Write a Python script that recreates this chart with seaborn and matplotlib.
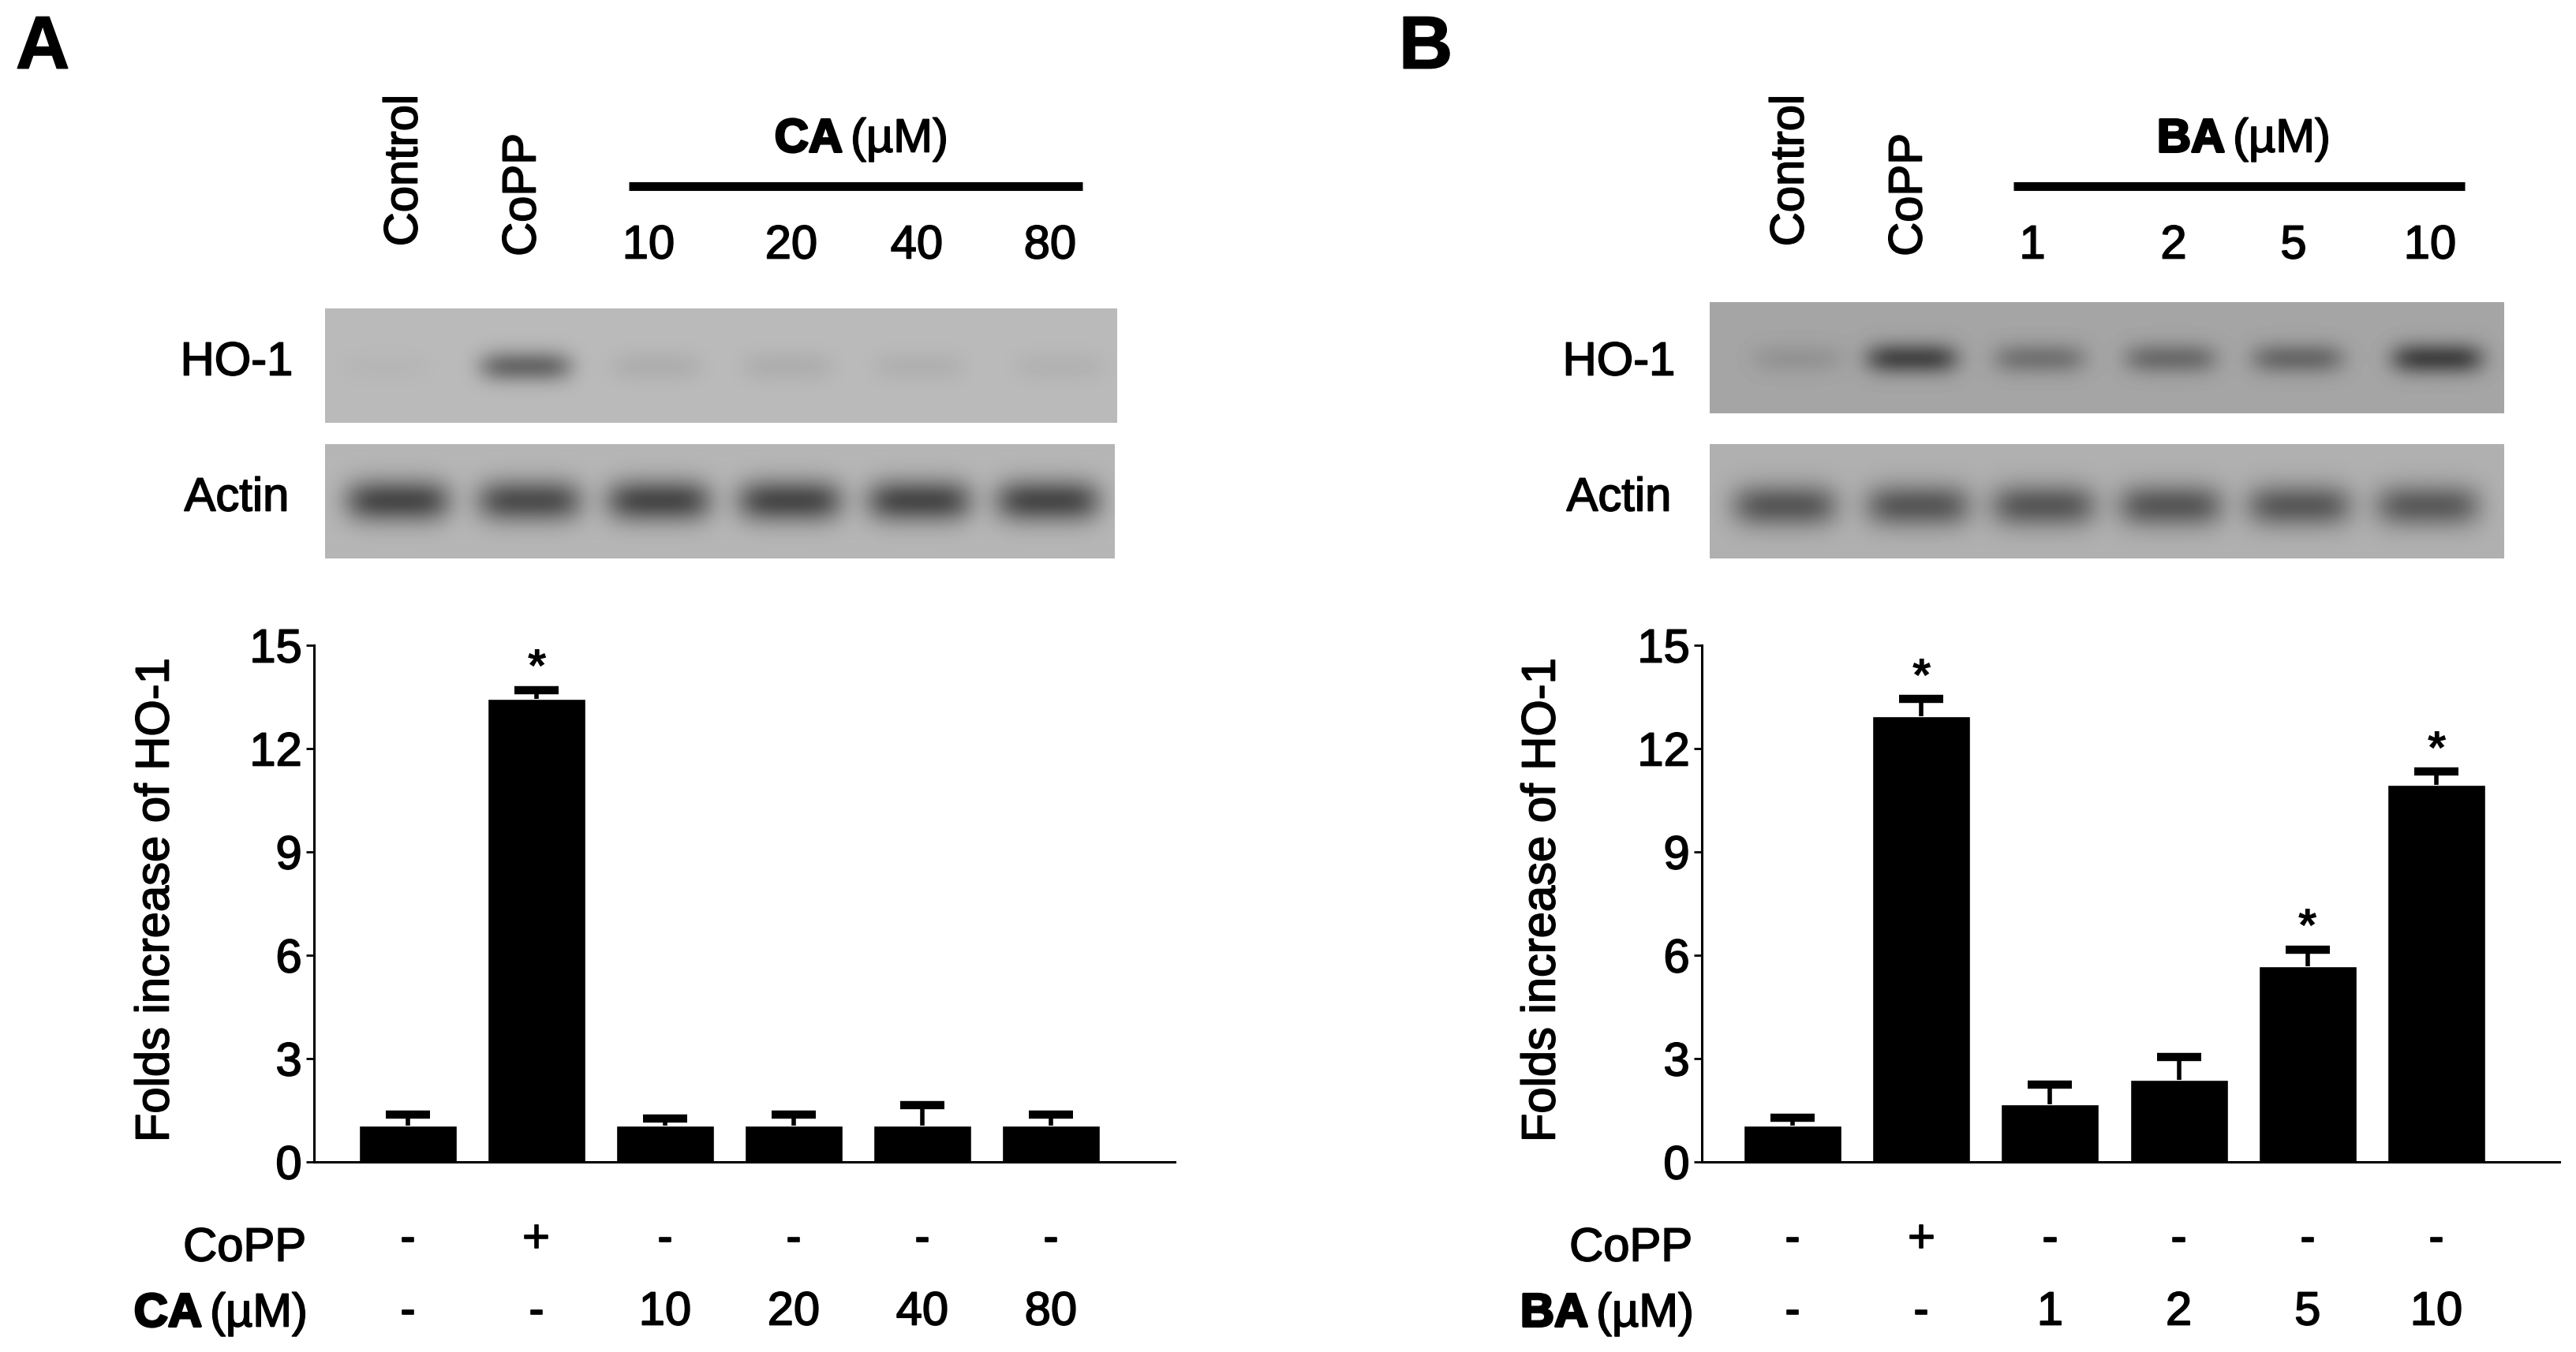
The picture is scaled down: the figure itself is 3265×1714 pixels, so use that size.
import matplotlib
matplotlib.use("Agg")
import matplotlib.pyplot as plt
import matplotlib.patheffects as pe
from matplotlib.transforms import blended_transform_factory
import numpy as np
import seaborn as sns

# values
lanes_a = ["Control", "CoPP", "10", "20", "40", "80"]
means_a = [1.05, 13.45, 1.05, 1.05, 1.05, 1.05]
err_a = [0.32, 0.25, 0.22, 0.32, 0.6, 0.32]
stars_a = [1]

lanes_b = ["Control", "CoPP", "1", "2", "5", "10"]
means_b = [1.05, 12.95, 1.68, 2.38, 5.69, 10.95]
err_b = [0.24, 0.49, 0.56, 0.67, 0.48, 0.38]
stars_b = [1, 4, 5]

copp_row = ["-", "+", "-", "-", "-", "-"]
yticks = [0, 3, 6, 9, 12, 15]

# how dark each band on the blots is (grey level 0-255)
ho1_dark_a = [182, 105, 174, 174, 176, 178]
actin_dark_a = [72, 78, 72, 72, 72, 72]
ho1_dark_b = [148, 70, 115, 108, 105, 66]
actin_dark_b = [88, 88, 88, 88, 90, 92]

W, H = 3266, 1714
FS = 43
# fattens the text a little, the source is a blurry raster
THICK = [pe.withStroke(linewidth=1.2, foreground="black")]
HEAVY = [pe.withStroke(linewidth=2.2, foreground="black")]

sns.set_style("ticks")
plt.rcParams["font.family"] = ["Liberation Sans", "DejaVu Sans"]

fig = plt.figure(figsize=(W / 100, H / 100), dpi=100)


def put(x, y, s, **kw):
    # text placed in image pixels
    kw.setdefault("fontsize", FS)
    kw.setdefault("ha", "center")
    kw.setdefault("va", "center")
    return fig.text(x / W, 1 - y / H, s, color="black", **kw)


def blot(box, bg, centers, dark, cy, half_w, half_h):
    x0, x1, y0, y1 = box
    ax = fig.add_axes([x0 / W, 1 - y1 / H, (x1 - x0) / W, (y1 - y0) / H])
    xx, yy = np.meshgrid(np.arange(x0, x1), np.arange(y0, y1))
    img = np.full(xx.shape, float(bg))
    for c, d in zip(centers, dark):
        shape = np.exp(-((xx - c) / half_w) ** 4 - ((yy - cy) / half_h) ** 2)
        img = img - (bg - d) * shape
    ax.imshow(img, cmap="gray", vmin=0, vmax=255, aspect="auto", interpolation="bilinear")
    ax.axis("off")


def panel(letter, letter_x, shift, head_shift, lanes, means, err, stars, drug, doses, ho1_bg, ho1_box, ho1_x, ho1_dark,
          ho1_y, actin_bg, actin_box, actin_x, actin_dark, actin_y, left, right, c0, step, dose_x, bar_x):
    put(letter_x, 62, letter, fontsize=68, fontweight="bold", ha="left", path_effects=THICK)

    # treatment header above the blots
    put(513 + shift, 216, "Control", rotation=90, path_effects=THICK)
    put(663 + shift, 247, "CoPP", rotation=90, path_effects=THICK)
    put(1068 + head_shift, 177, drug, fontweight="bold", ha="right", path_effects=HEAVY)
    put(1078 + head_shift, 177, "(µM)", ha="left", path_effects=THICK)
    fig.add_artist(plt.Line2D([bar_x[0] / W, bar_x[1] / W], [1 - 236 / H] * 2, color="black", lw=8, solid_capstyle="butt"))
    for x, d in zip(dose_x, doses):
        put(x, 312, d, path_effects=THICK)
    put(300 + head_shift, 460, "HO-1", path_effects=THICK)
    put(300 + head_shift, 632, "Actin", path_effects=THICK)

    blot(ho1_box, ho1_bg, ho1_x, ho1_dark, ho1_y, 58, 20)
    blot(actin_box, actin_bg, actin_x, actin_dark, actin_y, 66, 27)

    # bar chart
    ax = fig.add_axes([left / W, 1 - 1473 / H, (right - left) / W, (1473 - 818) / H])
    sns.barplot(x=lanes, y=means, color="black", saturation=1, width=0.76, ax=ax)
    bars = ax.errorbar(range(len(means)), means, yerr=[np.zeros(len(err)), err], fmt="none", ecolor="black",
                       elinewidth=4, capsize=20, capthick=7.5)
    bars[1][0].set_visible(False)  # only the upper cap, the lower one sits on the bar top
    ax.set_xlim((left - c0) / step, (right - c0) / step)
    ax.set_ylim(0, 15)
    ax.set_yticks(yticks)
    ax.set_xticks([])
    ax.tick_params(axis="y", length=7, width=2, pad=4, labelsize=FS, color="black", labelcolor="black")
    for t in ax.get_yticklabels():
        t.set_path_effects(THICK)
    sns.despine(ax=ax)
    for side in ["left", "bottom"]:
        ax.spines[side].set_linewidth(2.2)
        ax.spines[side].set_color("black")
    ax.patch.set_alpha(0)

    for i in stars:
        ax.text(i, means[i] + err[i] + 0.6, "*", ha="center", va="center", fontsize=FS, fontweight="bold",
                color="black", clip_on=False)

    put(198 + shift, 1141, "Folds increase of HO-1", rotation=90, path_effects=THICK)

    # rows under the bars
    tr = blended_transform_factory(ax.transData, fig.transFigure)
    put(388 + shift, 1583, "CoPP", ha="right", path_effects=THICK)
    put(256 + shift, 1666, drug, fontweight="bold", ha="right", path_effects=HEAVY)
    put(266 + shift, 1666, "(µM)", ha="left", path_effects=THICK)
    for i, s in enumerate(copp_row):
        ax.text(i, 1 - 1572 / H, s, transform=tr, ha="center", va="center", fontsize=FS, color="black", clip_on=False,
                path_effects=THICK)
    dose_row = ["-", "-"] + doses
    for i, s in enumerate(dose_row):
        ax.text(i, 1 - 1664 / H, s, transform=tr, ha="center", va="center", fontsize=FS, color="black", clip_on=False,
                path_effects=THICK)


panel("A", 20, 0, 0, lanes_a, means_a, err_a, stars_a, "CA", lanes_a[2:], 186, (412, 1416, 391, 536),
      [489, 666, 832, 998, 1165, 1342], ho1_dark_a, 464,
      182, (412, 1413, 563, 708), [504, 671, 835, 1001, 1165, 1328], actin_dark_a, 635,
      398, 1489, 517, 163, [822, 1003, 1162, 1331], (797, 1372))

panel("B", 1773, 1757, 1752, lanes_b, means_b, err_b, stars_b, "BA", lanes_b[2:], 165, (2167, 3174, 383, 524),
      [2278, 2423, 2585, 2751, 2912, 3089], ho1_dark_b, 454,
      176, (2167, 3174, 563, 708), [2262, 2431, 2590, 2751, 2914, 3077], actin_dark_b, 641,
      2157, 3244, 2272, 163.2, [2576, 2755, 2907, 3080], (2552, 3124))

fig.savefig("out.png", dpi=100, facecolor="white")
